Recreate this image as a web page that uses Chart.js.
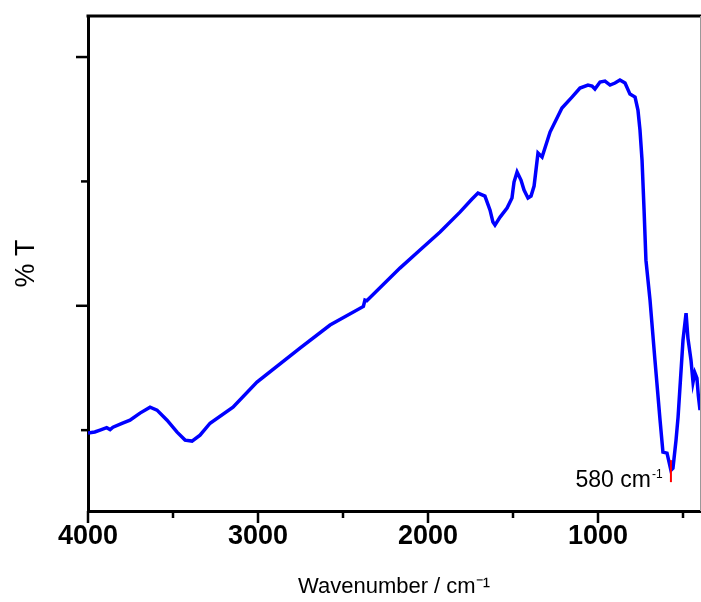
<!DOCTYPE html>
<html>
<head>
<meta charset="utf-8">
<script src="https://cdn.jsdelivr.net/npm/chart.js@4.4.1/dist/chart.umd.min.js"></script>
<style>
  body { margin: 0; background: #fff; }
</style>
</head>
<body>
<canvas id="irChart" width="701" height="602"></canvas>
<script>
// IR spectrum
var wavenumbers = [4000, 3960, 3929, 3890, 3870, 3853, 3800, 3753, 3694, 3635, 3594, 3535, 3476, 3429, 3388, 3341, 3282, 3147,
  3006, 2753, 2576, 2380, 2371, 2360, 2165, 2047, 1929, 1812, 1741, 1706, 1665, 1635, 1618, 1606, 1576, 1535, 1506,
  1494, 1476, 1453, 1435, 1412, 1394, 1376, 1353, 1329, 1282, 1212, 1153, 1106, 1059, 1035, 1018, 988, 959, 929,
  900, 871, 841, 812, 782, 765, 753, 741, 729, 718, 694, 665, 635, 618, 594, 571, 559, 541, 529, 500, 482, 471,
  453, 441, 430, 418, 410, 400];
var transmittance = [9.76, 9.85, 10.0, 10.2, 10.05, 10.24, 10.55, 10.80, 11.37, 11.85, 11.61, 10.80, 9.84, 9.20, 9.12, 9.60, 10.56, 11.85,
  13.86, 16.60, 18.45, 19.95, 20.46, 20.40, 23.03, 24.48, 25.93, 27.53, 28.58, 29.06, 28.82, 27.69, 26.73, 26.49, 27.13, 27.86, 28.66,
  29.95, 30.75, 30.11, 29.30, 28.66, 28.82, 29.63, 32.28, 31.96, 33.97, 35.90, 36.78, 37.51, 37.75, 37.67, 37.43, 37.99, 38.07, 37.75,
  37.91, 38.15, 37.91, 37.02, 36.78, 35.74, 34.13, 31.72, 27.69, 23.67, 20.46, 15.63, 10.80, 8.23, 8.15, 6.78, 6.94, 9.20, 11.05, 17.24, 19.41, 17.40,
  15.63, 13.86, 14.60, 14.18, 12.8, 11.61];

var xMajorTicks = [4000, 3000, 2000, 1000];
var xMinorTicks = [3500, 2500, 1500, 500];
var yMajorTicks = [20, 40];
var yMinorTicks = [10, 30];

var peakPos = 571;
var peakLabel = '580 cm';
var peakMarkY = [5.82, 7.59];

var spectrum = wavenumbers.map(function (w, i) { return { x: w, y: transmittance[i] }; });

// outer tick marks, top/right frame and the peak label
var framePlugin = {
  id: 'frame',
  afterDraw: function (chart) {
    var ctx = chart.ctx;
    var area = chart.chartArea;
    var xs = chart.scales.x;
    var ys = chart.scales.y;
    ctx.save();
    ctx.strokeStyle = '#000';
    ctx.lineWidth = 3;
    ctx.beginPath();
    ctx.moveTo(area.left - 1.5, area.top);
    ctx.lineTo(701, area.top);
    ctx.stroke();

    ctx.lineWidth = 2.5;
    xMajorTicks.concat(xMinorTicks).forEach(function (v) {
      var len = xMajorTicks.indexOf(v) >= 0 ? 12 : 7;
      var px = xs.getPixelForValue(v);
      ctx.beginPath();
      ctx.moveTo(px, area.bottom);
      ctx.lineTo(px, area.bottom + len);
      ctx.stroke();
    });
    yMajorTicks.concat(yMinorTicks).forEach(function (v) {
      var len = yMajorTicks.indexOf(v) >= 0 ? 12 : 7;
      var py = ys.getPixelForValue(v);
      ctx.beginPath();
      ctx.moveTo(area.left, py);
      ctx.lineTo(area.left - len, py);
      ctx.stroke();
    });

    ctx.strokeStyle = '#999';
    ctx.lineWidth = 1;
    ctx.beginPath();
    ctx.moveTo(area.right + 0.5, area.top);
    ctx.lineTo(area.right + 0.5, area.bottom);
    ctx.stroke();

    var tx = xs.getPixelForValue(peakPos) - 20;
    var ty = ys.getPixelForValue(peakMarkY[0]) + 5;
    ctx.fillStyle = '#000';
    ctx.textBaseline = 'alphabetic';
    ctx.textAlign = 'right';
    ctx.font = '23px "Liberation Sans", Arial, sans-serif';
    ctx.fillText(peakLabel, tx, ty);
    ctx.textAlign = 'left';
    ctx.font = '12px "Liberation Sans", Arial, sans-serif';
    ctx.fillText('-1', tx + 1, ty - 9);
    ctx.restore();
  }
};

var chartConfig = {
  type: 'line',
  data: {
    datasets: [{
      label: 'spectrum',
      data: spectrum,
      borderColor: '#0000ff',
      borderWidth: 3.5,
      pointRadius: 0,
      tension: 0,
      fill: false,
      order: 1
    }, {
      label: 'peak',
      data: [{ x: peakPos, y: peakMarkY[0] }, { x: peakPos, y: peakMarkY[1] }],
      borderColor: '#ff0000',
      borderWidth: 2,
      pointRadius: 0,
      fill: false,
      order: 0
    }]
  },
  options: {
    responsive: false,
    animation: false,
    devicePixelRatio: 1,
    layout: { padding: { top: 16, right: 1, left: 0, bottom: 0 } },
    plugins: { legend: { display: false }, tooltip: { enabled: false } },
    scales: {
      x: {
        type: 'linear',
        reverse: true,
        min: 400,
        max: 4000,
        afterBuildTicks: function (scale) {
          scale.ticks = xMajorTicks.map(function (v) { return { value: v }; });
        },
        afterFit: function (scale) { scale.height = 91; },
        grid: { display: false, drawTicks: false },
        border: { display: true, color: '#000', width: 3 },
        ticks: {
          color: '#000',
          padding: 9,
          maxRotation: 0,
          autoSkip: false,
          callback: function (value) { return String(value); },
          font: { family: '"Liberation Sans", Arial', size: 27, weight: 'bold' }
        },
        title: {
          display: true,
          text: 'Wavenumber / cm⁻¹',
          color: '#000',
          padding: { top: 0, bottom: 2 },
          font: { family: '"Liberation Sans", Arial', size: 22 }
        }
      },
      y: {
        min: 3.5,
        max: 43.3,
        afterFit: function (scale) { scale.width = 88; },
        grid: { display: false, drawTicks: false },
        border: { display: true, color: '#000', width: 3 },
        ticks: { display: false },
        title: {
          display: true,
          text: '% T',
          color: '#000',
          padding: { top: 10, bottom: 0 },
          font: { family: '"Liberation Sans", Arial', size: 27 }
        }
      }
    }
  },
  plugins: [framePlugin]
};

var irChart = new Chart(document.getElementById('irChart').getContext('2d'), chartConfig);
</script>
</body>
</html>
